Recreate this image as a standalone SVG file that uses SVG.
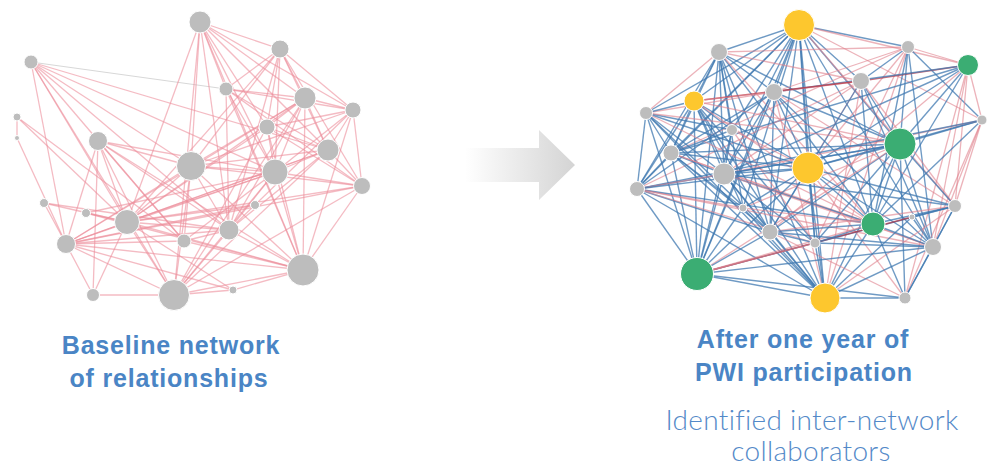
<svg xmlns="http://www.w3.org/2000/svg" width="992" height="468" viewBox="0 0 992 468">
<defs>
<linearGradient id="ag" x1="465" y1="0" x2="575" y2="0" gradientUnits="userSpaceOnUse">
<stop offset="0" stop-color="#ffffff"/>
<stop offset="1" stop-color="#d4d4d4"/>
</linearGradient>
<style>
.lp{stroke:#ec8e9b;stroke-width:1.3;stroke-opacity:0.6}
.lg{stroke:#d8d8d8;stroke-width:1.2}
.b{stroke:#3f78b0;stroke-width:1.4;stroke-opacity:0.75}
.r{stroke:#e0808c;stroke-width:1.3;stroke-opacity:0.6}
.d{stroke:#b8303f;stroke-width:1.5;stroke-opacity:0.7}
.g{fill:#bdbdbd;stroke:#fff;stroke-width:1}
.y{fill:#fdc72e;stroke:#fff;stroke-width:1}
.n{fill:#3bad73;stroke:#fff;stroke-width:1}
.h{font-family:"Liberation Sans",Arial,sans-serif;font-weight:bold;font-size:25px;fill:#4a85c5;text-anchor:middle;letter-spacing:0.8px}
.s{font-family:"Lato","Open Sans",sans-serif;font-weight:300;font-size:28px;fill:#5389c8;text-anchor:middle;letter-spacing:0.3px}
</style>
</defs>
<g id="connectors">
<g id="left-edges">
<line class="lg" x1="31" y1="62" x2="226" y2="89"/>
<line class="lp" x1="200" y1="22" x2="280" y2="49"/>
<line class="lp" x1="200" y1="22" x2="226" y2="89"/>
<line class="lp" x1="200" y1="22" x2="305" y2="98"/>
<line class="lp" x1="200" y1="22" x2="353" y2="110"/>
<line class="lp" x1="200" y1="22" x2="267" y2="127"/>
<line class="lp" x1="200" y1="22" x2="275" y2="172"/>
<line class="lp" x1="200" y1="22" x2="191" y2="166"/>
<line class="lp" x1="200" y1="22" x2="174" y2="295"/>
<line class="lp" x1="200" y1="22" x2="127" y2="222"/>
<line class="lp" x1="200" y1="22" x2="328" y2="150"/>
<line class="lp" x1="200" y1="22" x2="229" y2="230"/>
<line class="lp" x1="200" y1="22" x2="303" y2="270"/>
<line class="lp" x1="280" y1="49" x2="226" y2="89"/>
<line class="lp" x1="280" y1="49" x2="267" y2="127"/>
<line class="lp" x1="280" y1="49" x2="305" y2="98"/>
<line class="lp" x1="280" y1="49" x2="353" y2="110"/>
<line class="lp" x1="280" y1="49" x2="275" y2="172"/>
<line class="lp" x1="280" y1="49" x2="328" y2="150"/>
<line class="lp" x1="280" y1="49" x2="191" y2="166"/>
<line class="lp" x1="280" y1="49" x2="127" y2="222"/>
<line class="lp" x1="280" y1="49" x2="229" y2="230"/>
<line class="lp" x1="280" y1="49" x2="362" y2="186"/>
<line class="lp" x1="31" y1="62" x2="191" y2="166"/>
<line class="lp" x1="31" y1="62" x2="275" y2="172"/>
<line class="lp" x1="31" y1="62" x2="127" y2="222"/>
<line class="lp" x1="31" y1="62" x2="66" y2="244"/>
<line class="lp" x1="31" y1="62" x2="174" y2="295"/>
<line class="lp" x1="31" y1="62" x2="328" y2="150"/>
<line class="lp" x1="31" y1="62" x2="184" y2="241"/>
<line class="lp" x1="31" y1="62" x2="229" y2="230"/>
<line class="lp" x1="226" y1="89" x2="305" y2="98"/>
<line class="lp" x1="226" y1="89" x2="328" y2="150"/>
<line class="lp" x1="226" y1="89" x2="275" y2="172"/>
<line class="lp" x1="226" y1="89" x2="303" y2="270"/>
<line class="lp" x1="226" y1="89" x2="362" y2="186"/>
<line class="lp" x1="226" y1="89" x2="353" y2="110"/>
<line class="lp" x1="226" y1="89" x2="229" y2="230"/>
<line class="lp" x1="305" y1="98" x2="353" y2="110"/>
<line class="lp" x1="305" y1="98" x2="275" y2="172"/>
<line class="lp" x1="305" y1="98" x2="328" y2="150"/>
<line class="lp" x1="305" y1="98" x2="191" y2="166"/>
<line class="lp" x1="305" y1="98" x2="127" y2="222"/>
<line class="lp" x1="305" y1="98" x2="229" y2="230"/>
<line class="lp" x1="305" y1="98" x2="303" y2="270"/>
<line class="lp" x1="305" y1="98" x2="174" y2="295"/>
<line class="lp" x1="305" y1="98" x2="267" y2="127"/>
<line class="lp" x1="305" y1="98" x2="66" y2="244"/>
<line class="lp" x1="353" y1="110" x2="328" y2="150"/>
<line class="lp" x1="353" y1="110" x2="362" y2="186"/>
<line class="lp" x1="353" y1="110" x2="303" y2="270"/>
<line class="lp" x1="353" y1="110" x2="191" y2="166"/>
<line class="lp" x1="353" y1="110" x2="275" y2="172"/>
<line class="lp" x1="353" y1="110" x2="229" y2="230"/>
<line class="lp" x1="353" y1="110" x2="267" y2="127"/>
<line class="lp" x1="17" y1="117" x2="17" y2="138"/>
<line class="lp" x1="17" y1="117" x2="127" y2="222"/>
<line class="lp" x1="17" y1="117" x2="184" y2="241"/>
<line class="lp" x1="17" y1="138" x2="66" y2="244"/>
<line class="lp" x1="98" y1="141" x2="191" y2="166"/>
<line class="lp" x1="98" y1="141" x2="275" y2="172"/>
<line class="lp" x1="98" y1="141" x2="127" y2="222"/>
<line class="lp" x1="98" y1="141" x2="229" y2="230"/>
<line class="lp" x1="98" y1="141" x2="66" y2="244"/>
<line class="lp" x1="98" y1="141" x2="174" y2="295"/>
<line class="lp" x1="98" y1="141" x2="184" y2="241"/>
<line class="lp" x1="98" y1="141" x2="303" y2="270"/>
<line class="lp" x1="98" y1="141" x2="93" y2="295"/>
<line class="lp" x1="267" y1="127" x2="328" y2="150"/>
<line class="lp" x1="267" y1="127" x2="275" y2="172"/>
<line class="lp" x1="267" y1="127" x2="303" y2="270"/>
<line class="lp" x1="267" y1="127" x2="362" y2="186"/>
<line class="lp" x1="267" y1="127" x2="174" y2="295"/>
<line class="lp" x1="267" y1="127" x2="127" y2="222"/>
<line class="lp" x1="191" y1="166" x2="275" y2="172"/>
<line class="lp" x1="191" y1="166" x2="328" y2="150"/>
<line class="lp" x1="191" y1="166" x2="127" y2="222"/>
<line class="lp" x1="191" y1="166" x2="229" y2="230"/>
<line class="lp" x1="191" y1="166" x2="174" y2="295"/>
<line class="lp" x1="191" y1="166" x2="66" y2="244"/>
<line class="lp" x1="191" y1="166" x2="303" y2="270"/>
<line class="lp" x1="191" y1="166" x2="184" y2="241"/>
<line class="lp" x1="191" y1="166" x2="362" y2="186"/>
<line class="lp" x1="328" y1="150" x2="362" y2="186"/>
<line class="lp" x1="328" y1="150" x2="275" y2="172"/>
<line class="lp" x1="328" y1="150" x2="127" y2="222"/>
<line class="lp" x1="328" y1="150" x2="66" y2="244"/>
<line class="lp" x1="328" y1="150" x2="174" y2="295"/>
<line class="lp" x1="328" y1="150" x2="229" y2="230"/>
<line class="lp" x1="275" y1="172" x2="127" y2="222"/>
<line class="lp" x1="275" y1="172" x2="66" y2="244"/>
<line class="lp" x1="275" y1="172" x2="174" y2="295"/>
<line class="lp" x1="275" y1="172" x2="229" y2="230"/>
<line class="lp" x1="275" y1="172" x2="303" y2="270"/>
<line class="lp" x1="275" y1="172" x2="184" y2="241"/>
<line class="lp" x1="275" y1="172" x2="362" y2="186"/>
<line class="lp" x1="362" y1="186" x2="303" y2="270"/>
<line class="lp" x1="362" y1="186" x2="66" y2="244"/>
<line class="lp" x1="362" y1="186" x2="174" y2="295"/>
<line class="lp" x1="362" y1="186" x2="127" y2="222"/>
<line class="lp" x1="44" y1="203" x2="127" y2="222"/>
<line class="lp" x1="44" y1="203" x2="229" y2="230"/>
<line class="lp" x1="44" y1="203" x2="66" y2="244"/>
<line class="lp" x1="255" y1="205" x2="66" y2="244"/>
<line class="lp" x1="255" y1="205" x2="127" y2="222"/>
<line class="lp" x1="86" y1="213" x2="127" y2="222"/>
<line class="lp" x1="86" y1="213" x2="275" y2="172"/>
<line class="lp" x1="86" y1="213" x2="303" y2="270"/>
<line class="lp" x1="127" y1="222" x2="229" y2="230"/>
<line class="lp" x1="127" y1="222" x2="66" y2="244"/>
<line class="lp" x1="127" y1="222" x2="174" y2="295"/>
<line class="lp" x1="127" y1="222" x2="303" y2="270"/>
<line class="lp" x1="127" y1="222" x2="93" y2="295"/>
<line class="lp" x1="127" y1="222" x2="233" y2="290"/>
<line class="lp" x1="229" y1="230" x2="66" y2="244"/>
<line class="lp" x1="229" y1="230" x2="174" y2="295"/>
<line class="lp" x1="229" y1="230" x2="303" y2="270"/>
<line class="lp" x1="229" y1="230" x2="184" y2="241"/>
<line class="lp" x1="184" y1="241" x2="66" y2="244"/>
<line class="lp" x1="184" y1="241" x2="303" y2="270"/>
<line class="lp" x1="66" y1="244" x2="303" y2="270"/>
<line class="lp" x1="66" y1="244" x2="174" y2="295"/>
<line class="lp" x1="66" y1="244" x2="93" y2="295"/>
<line class="lp" x1="66" y1="244" x2="233" y2="290"/>
<line class="lp" x1="303" y1="270" x2="174" y2="295"/>
<line class="lp" x1="303" y1="270" x2="233" y2="290"/>
<line class="lp" x1="174" y1="295" x2="93" y2="295"/>
<line class="lp" x1="174" y1="295" x2="233" y2="290"/>
</g>
<g id="right-edges">
<line class="b" x1="799" y1="25" x2="719" y2="52"/>
<line class="b" x1="799" y1="25" x2="908" y2="47"/>
<line class="b" x1="799" y1="25" x2="861" y2="81"/>
<line class="b" x1="799" y1="25" x2="774" y2="92"/>
<line class="b" x1="799" y1="25" x2="694" y2="101"/>
<line class="b" x1="799" y1="25" x2="646" y2="113"/>
<line class="b" x1="799" y1="25" x2="732" y2="130"/>
<line class="b" x1="799" y1="25" x2="900" y2="144"/>
<line class="b" x1="799" y1="25" x2="671" y2="153"/>
<line class="b" x1="799" y1="25" x2="724" y2="174"/>
<line class="b" x1="799" y1="25" x2="808" y2="168"/>
<line class="b" x1="799" y1="25" x2="637" y2="189"/>
<line class="b" x1="799" y1="25" x2="743" y2="208"/>
<line class="b" x1="799" y1="25" x2="873" y2="224"/>
<line class="b" x1="799" y1="25" x2="770" y2="232"/>
<line class="b" x1="799" y1="25" x2="815" y2="243"/>
<line class="b" x1="799" y1="25" x2="697" y2="274"/>
<line class="b" x1="799" y1="25" x2="825" y2="298"/>
<line class="b" x1="799" y1="25" x2="933" y2="247"/>
<line class="r" x1="799" y1="25" x2="955" y2="206"/>
<line class="r" x1="799" y1="25" x2="968" y2="65"/>
<line class="r" x1="799" y1="25" x2="982" y2="120"/>
<line class="r" x1="719" y1="52" x2="908" y2="47"/>
<line class="b" x1="719" y1="52" x2="774" y2="92"/>
<line class="b" x1="719" y1="52" x2="694" y2="101"/>
<line class="r" x1="719" y1="52" x2="646" y2="113"/>
<line class="b" x1="719" y1="52" x2="732" y2="130"/>
<line class="b" x1="719" y1="52" x2="671" y2="153"/>
<line class="b" x1="719" y1="52" x2="724" y2="174"/>
<line class="b" x1="719" y1="52" x2="808" y2="168"/>
<line class="b" x1="719" y1="52" x2="637" y2="189"/>
<line class="b" x1="719" y1="52" x2="743" y2="208"/>
<line class="b" x1="719" y1="52" x2="770" y2="232"/>
<line class="b" x1="719" y1="52" x2="697" y2="274"/>
<line class="b" x1="719" y1="52" x2="900" y2="144"/>
<line class="r" x1="719" y1="52" x2="873" y2="224"/>
<line class="b" x1="719" y1="52" x2="825" y2="298"/>
<line class="r" x1="719" y1="52" x2="861" y2="81"/>
<line class="r" x1="908" y1="47" x2="968" y2="65"/>
<line class="b" x1="908" y1="47" x2="861" y2="81"/>
<line class="r" x1="908" y1="47" x2="774" y2="92"/>
<line class="b" x1="908" y1="47" x2="900" y2="144"/>
<line class="r" x1="908" y1="47" x2="808" y2="168"/>
<line class="b" x1="908" y1="47" x2="873" y2="224"/>
<line class="b" x1="908" y1="47" x2="933" y2="247"/>
<line class="b" x1="908" y1="47" x2="982" y2="120"/>
<line class="r" x1="908" y1="47" x2="815" y2="243"/>
<line class="r" x1="908" y1="47" x2="825" y2="298"/>
<line class="r" x1="908" y1="47" x2="671" y2="153"/>
<line class="d" x1="968" y1="65" x2="861" y2="81"/>
<line class="b" x1="968" y1="65" x2="774" y2="92"/>
<line class="b" x1="968" y1="65" x2="900" y2="144"/>
<line class="b" x1="968" y1="65" x2="808" y2="168"/>
<line class="b" x1="968" y1="65" x2="873" y2="224"/>
<line class="r" x1="968" y1="65" x2="982" y2="120"/>
<line class="r" x1="968" y1="65" x2="933" y2="247"/>
<line class="r" x1="968" y1="65" x2="955" y2="206"/>
<line class="b" x1="968" y1="65" x2="724" y2="174"/>
<line class="b" x1="968" y1="65" x2="671" y2="153"/>
<line class="r" x1="968" y1="65" x2="770" y2="232"/>
<line class="r" x1="968" y1="65" x2="905" y2="298"/>
<line class="r" x1="861" y1="81" x2="774" y2="92"/>
<line class="d" x1="861" y1="81" x2="694" y2="101"/>
<line class="b" x1="861" y1="81" x2="900" y2="144"/>
<line class="r" x1="861" y1="81" x2="808" y2="168"/>
<line class="b" x1="861" y1="81" x2="873" y2="224"/>
<line class="b" x1="861" y1="81" x2="770" y2="232"/>
<line class="b" x1="861" y1="81" x2="933" y2="247"/>
<line class="r" x1="861" y1="81" x2="724" y2="174"/>
<line class="r" x1="861" y1="81" x2="825" y2="298"/>
<line class="r" x1="861" y1="81" x2="955" y2="206"/>
<line class="r" x1="861" y1="81" x2="637" y2="189"/>
<line class="r" x1="774" y1="92" x2="694" y2="101"/>
<line class="r" x1="774" y1="92" x2="646" y2="113"/>
<line class="b" x1="774" y1="92" x2="900" y2="144"/>
<line class="b" x1="774" y1="92" x2="671" y2="153"/>
<line class="b" x1="774" y1="92" x2="808" y2="168"/>
<line class="b" x1="774" y1="92" x2="873" y2="224"/>
<line class="b" x1="774" y1="92" x2="770" y2="232"/>
<line class="b" x1="774" y1="92" x2="933" y2="247"/>
<line class="b" x1="774" y1="92" x2="697" y2="274"/>
<line class="r" x1="774" y1="92" x2="825" y2="298"/>
<line class="b" x1="774" y1="92" x2="637" y2="189"/>
<line class="b" x1="774" y1="92" x2="724" y2="174"/>
<line class="r" x1="774" y1="92" x2="955" y2="206"/>
<line class="b" x1="694" y1="101" x2="646" y2="113"/>
<line class="b" x1="694" y1="101" x2="732" y2="130"/>
<line class="b" x1="694" y1="101" x2="671" y2="153"/>
<line class="b" x1="694" y1="101" x2="724" y2="174"/>
<line class="b" x1="694" y1="101" x2="808" y2="168"/>
<line class="b" x1="694" y1="101" x2="637" y2="189"/>
<line class="b" x1="694" y1="101" x2="743" y2="208"/>
<line class="b" x1="694" y1="101" x2="770" y2="232"/>
<line class="b" x1="694" y1="101" x2="697" y2="274"/>
<line class="b" x1="694" y1="101" x2="825" y2="298"/>
<line class="r" x1="694" y1="101" x2="900" y2="144"/>
<line class="r" x1="694" y1="101" x2="873" y2="224"/>
<line class="b" x1="694" y1="101" x2="815" y2="243"/>
<line class="b" x1="646" y1="113" x2="732" y2="130"/>
<line class="b" x1="646" y1="113" x2="671" y2="153"/>
<line class="b" x1="646" y1="113" x2="724" y2="174"/>
<line class="b" x1="646" y1="113" x2="808" y2="168"/>
<line class="b" x1="646" y1="113" x2="637" y2="189"/>
<line class="b" x1="646" y1="113" x2="697" y2="274"/>
<line class="b" x1="646" y1="113" x2="770" y2="232"/>
<line class="r" x1="646" y1="113" x2="900" y2="144"/>
<line class="r" x1="646" y1="113" x2="873" y2="224"/>
<line class="b" x1="646" y1="113" x2="825" y2="298"/>
<line class="b" x1="732" y1="130" x2="671" y2="153"/>
<line class="r" x1="732" y1="130" x2="808" y2="168"/>
<line class="b" x1="732" y1="130" x2="724" y2="174"/>
<line class="b" x1="732" y1="130" x2="697" y2="274"/>
<line class="r" x1="732" y1="130" x2="815" y2="243"/>
<line class="b" x1="982" y1="120" x2="900" y2="144"/>
<line class="b" x1="982" y1="120" x2="808" y2="168"/>
<line class="r" x1="982" y1="120" x2="955" y2="206"/>
<line class="r" x1="982" y1="120" x2="933" y2="247"/>
<line class="b" x1="982" y1="120" x2="873" y2="224"/>
<line class="r" x1="982" y1="120" x2="905" y2="298"/>
<line class="r" x1="982" y1="120" x2="724" y2="174"/>
<line class="b" x1="982" y1="120" x2="637" y2="189"/>
<line class="b" x1="900" y1="144" x2="671" y2="153"/>
<line class="b" x1="900" y1="144" x2="724" y2="174"/>
<line class="b" x1="900" y1="144" x2="808" y2="168"/>
<line class="b" x1="900" y1="144" x2="955" y2="206"/>
<line class="b" x1="900" y1="144" x2="873" y2="224"/>
<line class="b" x1="900" y1="144" x2="770" y2="232"/>
<line class="b" x1="900" y1="144" x2="933" y2="247"/>
<line class="r" x1="900" y1="144" x2="697" y2="274"/>
<line class="b" x1="900" y1="144" x2="825" y2="298"/>
<line class="b" x1="900" y1="144" x2="905" y2="298"/>
<line class="b" x1="900" y1="144" x2="637" y2="189"/>
<line class="r" x1="900" y1="144" x2="743" y2="208"/>
<line class="b" x1="900" y1="144" x2="815" y2="243"/>
<line class="b" x1="671" y1="153" x2="724" y2="174"/>
<line class="b" x1="671" y1="153" x2="808" y2="168"/>
<line class="b" x1="671" y1="153" x2="637" y2="189"/>
<line class="r" x1="671" y1="153" x2="873" y2="224"/>
<line class="b" x1="671" y1="153" x2="770" y2="232"/>
<line class="b" x1="671" y1="153" x2="697" y2="274"/>
<line class="b" x1="671" y1="153" x2="825" y2="298"/>
<line class="r" x1="671" y1="153" x2="933" y2="247"/>
<line class="b" x1="671" y1="153" x2="743" y2="208"/>
<line class="b" x1="724" y1="174" x2="808" y2="168"/>
<line class="r" x1="724" y1="174" x2="637" y2="189"/>
<line class="b" x1="724" y1="174" x2="873" y2="224"/>
<line class="b" x1="724" y1="174" x2="770" y2="232"/>
<line class="r" x1="724" y1="174" x2="933" y2="247"/>
<line class="b" x1="724" y1="174" x2="697" y2="274"/>
<line class="b" x1="724" y1="174" x2="825" y2="298"/>
<line class="b" x1="724" y1="174" x2="955" y2="206"/>
<line class="b" x1="724" y1="174" x2="815" y2="243"/>
<line class="b" x1="808" y1="168" x2="637" y2="189"/>
<line class="b" x1="808" y1="168" x2="955" y2="206"/>
<line class="b" x1="808" y1="168" x2="873" y2="224"/>
<line class="b" x1="808" y1="168" x2="770" y2="232"/>
<line class="b" x1="808" y1="168" x2="815" y2="243"/>
<line class="b" x1="808" y1="168" x2="933" y2="247"/>
<line class="b" x1="808" y1="168" x2="697" y2="274"/>
<line class="b" x1="808" y1="168" x2="825" y2="298"/>
<line class="r" x1="808" y1="168" x2="905" y2="298"/>
<line class="b" x1="808" y1="168" x2="743" y2="208"/>
<line class="r" x1="637" y1="189" x2="743" y2="208"/>
<line class="b" x1="637" y1="189" x2="770" y2="232"/>
<line class="b" x1="637" y1="189" x2="697" y2="274"/>
<line class="b" x1="637" y1="189" x2="825" y2="298"/>
<line class="b" x1="637" y1="189" x2="873" y2="224"/>
<line class="r" x1="637" y1="189" x2="815" y2="243"/>
<line class="r" x1="637" y1="189" x2="933" y2="247"/>
<line class="b" x1="743" y1="208" x2="697" y2="274"/>
<line class="r" x1="743" y1="208" x2="873" y2="224"/>
<line class="b" x1="743" y1="208" x2="825" y2="298"/>
<line class="b" x1="955" y1="206" x2="873" y2="224"/>
<line class="r" x1="955" y1="206" x2="770" y2="232"/>
<line class="b" x1="955" y1="206" x2="933" y2="247"/>
<line class="b" x1="955" y1="206" x2="697" y2="274"/>
<line class="r" x1="955" y1="206" x2="825" y2="298"/>
<line class="b" x1="955" y1="206" x2="905" y2="298"/>
<line class="b" x1="955" y1="206" x2="912" y2="217"/>
<line class="d" x1="912" y1="217" x2="697" y2="274"/>
<line class="b" x1="912" y1="217" x2="825" y2="298"/>
<line class="b" x1="912" y1="217" x2="933" y2="247"/>
<line class="b" x1="873" y1="224" x2="770" y2="232"/>
<line class="b" x1="873" y1="224" x2="815" y2="243"/>
<line class="b" x1="873" y1="224" x2="933" y2="247"/>
<line class="r" x1="873" y1="224" x2="697" y2="274"/>
<line class="b" x1="873" y1="224" x2="825" y2="298"/>
<line class="b" x1="873" y1="224" x2="905" y2="298"/>
<line class="b" x1="770" y1="232" x2="815" y2="243"/>
<line class="b" x1="770" y1="232" x2="933" y2="247"/>
<line class="b" x1="770" y1="232" x2="697" y2="274"/>
<line class="b" x1="770" y1="232" x2="825" y2="298"/>
<line class="r" x1="770" y1="232" x2="905" y2="298"/>
<line class="b" x1="815" y1="243" x2="933" y2="247"/>
<line class="r" x1="815" y1="243" x2="697" y2="274"/>
<line class="b" x1="815" y1="243" x2="825" y2="298"/>
<line class="b" x1="933" y1="247" x2="697" y2="274"/>
<line class="b" x1="933" y1="247" x2="825" y2="298"/>
<line class="b" x1="933" y1="247" x2="905" y2="298"/>
<line class="b" x1="697" y1="274" x2="825" y2="298"/>
<line class="b" x1="697" y1="274" x2="905" y2="298"/>
<line class="b" x1="825" y1="298" x2="905" y2="298"/>
</g>
</g>
<g id="left-nodes">
<g id="lA"><circle class="g" cx="200" cy="22" r="11"/></g>
<g id="lB"><circle class="g" cx="280" cy="49" r="9"/></g>
<g id="lC"><circle class="g" cx="31" cy="62" r="7"/></g>
<g id="lD"><circle class="g" cx="226" cy="89" r="7"/></g>
<g id="lE"><circle class="g" cx="305" cy="98" r="11"/></g>
<g id="lF"><circle class="g" cx="353" cy="110" r="8"/></g>
<g id="lG"><circle class="g" cx="17" cy="117" r="4"/></g>
<g id="lH"><circle class="g" cx="17" cy="138" r="2.5"/></g>
<g id="lI"><circle class="g" cx="98" cy="141" r="9.5"/></g>
<g id="lJ"><circle class="g" cx="267" cy="127" r="8"/></g>
<g id="lK"><circle class="g" cx="191" cy="166" r="14.5"/></g>
<g id="lL"><circle class="g" cx="328" cy="150" r="11"/></g>
<g id="lM"><circle class="g" cx="275" cy="172" r="13"/></g>
<g id="lN"><circle class="g" cx="362" cy="186" r="8.5"/></g>
<g id="lO"><circle class="g" cx="44" cy="203" r="4.5"/></g>
<g id="lP"><circle class="g" cx="255" cy="205" r="4.5"/></g>
<g id="lQ"><circle class="g" cx="86" cy="213" r="4.5"/></g>
<g id="lR"><circle class="g" cx="127" cy="222" r="12.5"/></g>
<g id="lS"><circle class="g" cx="229" cy="230" r="10"/></g>
<g id="lT"><circle class="g" cx="184" cy="241" r="7"/></g>
<g id="lU"><circle class="g" cx="66" cy="244" r="9.5"/></g>
<g id="lV"><circle class="g" cx="303" cy="270" r="16"/></g>
<g id="lW"><circle class="g" cx="174" cy="295" r="15.5"/></g>
<g id="lX"><circle class="g" cx="93" cy="295" r="6.5"/></g>
<g id="lY"><circle class="g" cx="233" cy="290" r="4"/></g>
</g>
<g id="right-nodes">
<g id="r1"><circle class="y" cx="799" cy="25" r="15.5"/></g>
<g id="r2"><circle class="g" cx="719" cy="52" r="8.5"/></g>
<g id="r3"><circle class="g" cx="908" cy="47" r="6.5"/></g>
<g id="r4"><circle class="n" cx="968" cy="65" r="10.5"/></g>
<g id="r5"><circle class="g" cx="861" cy="81" r="8.5"/></g>
<g id="r6"><circle class="g" cx="774" cy="92" r="8.5"/></g>
<g id="r7"><circle class="y" cx="694" cy="101" r="10"/></g>
<g id="r8"><circle class="g" cx="646" cy="113" r="6.5"/></g>
<g id="r9"><circle class="g" cx="732" cy="130" r="5.5"/></g>
<g id="r10"><circle class="g" cx="982" cy="120" r="5"/></g>
<g id="r11"><circle class="n" cx="900" cy="144" r="16"/></g>
<g id="r12"><circle class="g" cx="671" cy="153" r="8"/></g>
<g id="r13"><circle class="g" cx="724" cy="174" r="11"/></g>
<g id="r14"><circle class="y" cx="808" cy="168" r="16"/></g>
<g id="r15"><circle class="g" cx="637" cy="189" r="7.5"/></g>
<g id="r16"><circle class="g" cx="743" cy="208" r="4"/></g>
<g id="r17"><circle class="g" cx="955" cy="206" r="6.5"/></g>
<g id="r18"><circle class="g" cx="912" cy="217" r="3"/></g>
<g id="r19"><circle class="n" cx="873" cy="224" r="12"/></g>
<g id="r20"><circle class="g" cx="770" cy="232" r="8"/></g>
<g id="r21"><circle class="g" cx="815" cy="243" r="5"/></g>
<g id="r22"><circle class="g" cx="933" cy="247" r="8.5"/></g>
<g id="r23"><circle class="n" cx="697" cy="274" r="16.5"/></g>
<g id="r24"><circle class="y" cx="825" cy="298" r="15"/></g>
<g id="r25"><circle class="g" cx="905" cy="298" r="6"/></g>
</g>
<g id="arrow">
<path d="M465 148H539V130L575 165L539 200V182H465Z" fill="url(#ag)"/>
</g>
<g id="labels">
<text class="h" x="171" y="354">Baseline network</text>
<text class="h" x="169" y="387">of relationships</text>
<text class="h" x="803" y="348">After one year of</text>
<text class="h" x="804" y="381">PWI participation</text>
<text class="s" x="812" y="430">Identified inter-network</text>
<text class="s" x="811" y="461">collaborators</text>
</g>
</svg>
